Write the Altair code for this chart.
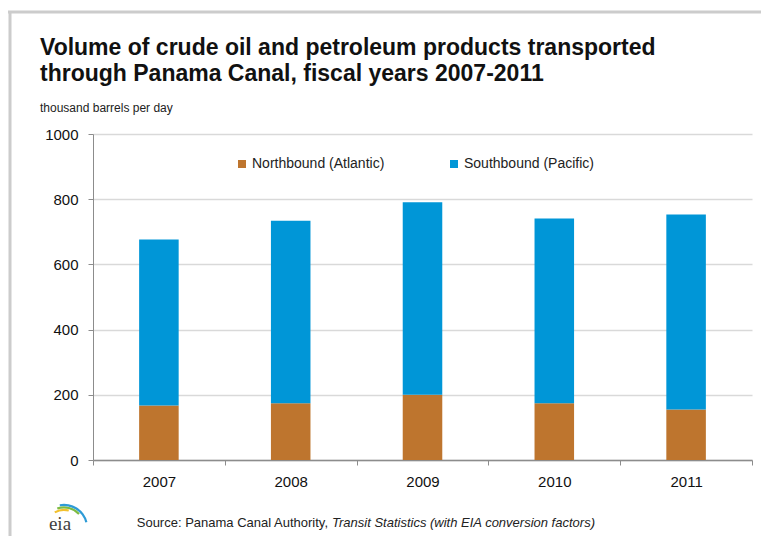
import altair as alt
import pandas as pd

years = ["2007", "2008", "2009", "2010", "2011"]
northbound = [167, 174, 200, 174, 155]
southbound = [509, 560, 591, 567, 598]
series = ["Northbound (Atlantic)", "Southbound (Pacific)"]
colors = ["#BE752E", "#0096D7"]

title_lines = ["Volume of crude oil and petroleum products transported",
               "through Panama Canal, fiscal years 2007-2011"]
unit_text = "thousand barrels per day"
source_plain = "Source: Panama Canal Authority,"
source_italic = "Transit Statistics (with EIA conversion factors)"

rows = []
for i, y in enumerate(years):
    rows.append({"year": y, "series": series[0], "value": northbound[i], "order": 0})
    rows.append({"year": y, "series": series[1], "value": southbound[i], "order": 1})
df = pd.DataFrame(rows)

NARROW = "Liberation Sans Narrow, Arial Narrow, Liberation Sans, sans-serif"
SANS = "Liberation Sans, Arial, sans-serif"

bars = alt.Chart(df).mark_bar(width={"band": 0.3}).encode(
    x=alt.X("year:N", title=None,
            scale=alt.Scale(paddingInner=0, paddingOuter=0),
            axis=alt.Axis(labelAngle=0, tickBand="extent", tickSize=5,
                          labelFontSize=15, labelFont=SANS, labelColor="#111",
                          labelPadding=9, domainColor="#8C8C8C", tickColor="#8C8C8C",
                          domainWidth=1.5)),
    y=alt.Y("value:Q", title=None, stack="zero",
            scale=alt.Scale(domain=[0, 1000]),
            axis=alt.Axis(values=[0, 200, 400, 600, 800, 1000], format="d", tickSize=5,
                          labelFontSize=15, labelFont=SANS, labelColor="#111",
                          labelPadding=10, domainColor="#8C8C8C", tickColor="#8C8C8C",
                          gridColor="#D9D9D9", gridWidth=1.5)),
    color=alt.Color("series:N", scale=alt.Scale(domain=series, range=colors),
                    legend=alt.Legend(title=None, orient="none", legendX=142, legendY=23,
                                      direction="horizontal", symbolType="square",
                                      symbolSize=64, symbolStrokeWidth=0,
                                      labelFontSize=14, labelFont=SANS, labelColor="#222",
                                      columnPadding=62, labelOffset=3, padding=0)),
    order=alt.Order("order:Q"),
)

one = pd.DataFrame({"k": [0]})

title = alt.Chart(one).mark_text(align="left", baseline="alphabetic", fontSize=23,
                                 fontWeight="bold", font=NARROW, color="#111",
                                 lineHeight=26).encode(
    x=alt.value(-53), y=alt.value(-79), text=alt.value(title_lines))

unit = alt.Chart(one).mark_text(align="left", baseline="alphabetic", fontSize=12,
                                font=NARROW, color="#222").encode(
    x=alt.value(-53), y=alt.value(-22), text=alt.value(unit_text))

src1 = alt.Chart(one).mark_text(align="right", baseline="alphabetic", fontSize=13,
                                font=NARROW, color="#222").encode(
    x=alt.value(235), y=alt.value(393), text=alt.value(source_plain))
src2 = alt.Chart(one).mark_text(align="left", baseline="alphabetic", fontSize=13,
                                font=NARROW, fontStyle="italic", color="#222").encode(
    x=alt.value(239), y=alt.value(393), text=alt.value(source_italic))

logo_text = alt.Chart(one).mark_text(align="center", baseline="alphabetic", fontSize=19,
                                     font="Liberation Serif, DejaVu Serif, serif",
                                     color="#3F3F3F").encode(
    x=alt.value(-33), y=alt.value(396), text=alt.value("eia"))

arc_r = [17, 19.5, 22]
arc_start = [5.75, 5.95, 6.1]
arc_end = [6.55, 7.1, 7.6]
arc_col = ["#F2C12E", "#7DBB42", "#2E9BD6"]
arc_df = pd.DataFrame({"r": arc_r, "t": arc_start, "t2": arc_end, "c": arc_col})
logo_arcs = alt.Chart(arc_df).transform_calculate(r2="datum.r + 2.2").mark_arc(
    x=-29, y=394).encode(
    radius=alt.Radius("r2:Q", scale=None),
    radius2=alt.Radius2("r:Q"),
    theta=alt.Theta("t:Q", scale=None),
    theta2=alt.Theta2("t2:Q"),
    color=alt.Color("c:N", scale=None, legend=None),
)

frame_top = alt.Chart(one).mark_rule(color="#CCCCCC", strokeWidth=3).encode(
    x=alt.value(-90), x2=alt.value(670), y=alt.value(-122))
frame_left = alt.Chart(one).mark_rule(color="#CCCCCC", strokeWidth=3).encode(
    x=alt.value(-83), y=alt.value(-122), y2=alt.value(420))

chart = alt.layer(bars, title, unit, src1, src2, logo_text, logo_arcs, frame_top, frame_left).resolve_scale(
    color="independent"
).properties(
    width=659, height=326,
    padding={"left": 85, "top": 126, "right": 9, "bottom": 76},
    autosize="none",
    background="white",
).configure_view(stroke=None)

chart.save("out.html", embed_options={"renderer": "svg", "actions": False})
